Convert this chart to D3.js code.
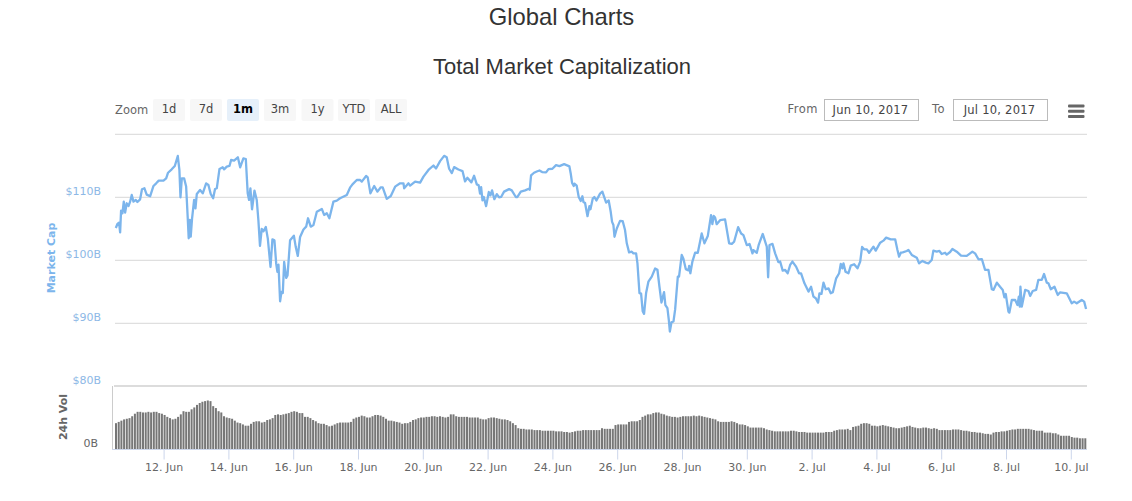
<!DOCTYPE html>
<html>
<head>
<meta charset="utf-8">
<title>Global Charts</title>
<script src="https://cdnjs.cloudflare.com/ajax/libs/d3/7.8.5/d3.min.js"></script>
<style>
    html, body { margin: 0; padding: 0; background: #fff; }
    svg { display: block; }
    text { font-family: "DejaVu Sans", sans-serif; }
    .title { font-family: "Liberation Sans", Arial, sans-serif; fill: #333; text-anchor: middle; font-size: 22px; }
    .axis path { display: none; }
</style>
</head>
<body>
<div id="chart"></div>
<script>
// hours after 10 Jun 2017 00:00 UTC
const capHours = [
    12.6, 13.8, 15, 15.8, 16.5, 17.5, 18.5, 19.5, 20.7, 22, 23.2, 24.4, 25.7, 27.4, 28.6, 30.6, 32, 33.8, 35.5, 38,
    40.5, 42.5, 44.4, 47.9, 49.9, 51.3, 54, 56.3, 58.5, 59.7, 60.5, 61.5, 63.2, 64.7, 65.7, 66.6, 67.4, 68.1, 69.1, 70.6,
    71.6, 72.6, 75, 77, 79.5, 81.2, 82.9, 84.7, 86.1, 87.4, 89.4, 91.8, 92.8, 94.8, 96.8, 98, 100.2, 103, 104.7, 107.1,
    108.9, 110.3, 111.3, 112.3, 113.5, 115.3, 117, 118.2, 119.4, 120.7, 122, 123.7, 125.2, 127.2, 128.6, 130.1, 131.4, 132.3, 133.1, 134.3,
    135.3, 136.3, 137.3, 138.8, 139.8, 141.7, 144.5, 145.9, 147.4, 149.1, 151.6, 153.6, 155, 157, 159, 161.5, 165.2, 166.9, 168.9, 170.8,
    173.8, 176.3, 178.7, 183.7, 186.1, 187.9, 191.1, 193.6, 194.8, 198, 199.2, 201.2, 204, 206.4, 208.9, 210.3, 213.3, 216.3, 219.5, 223.2,
    225.7, 226.2, 229.4, 230.6, 234.3, 238, 240.5, 244.2, 247.9, 249.8, 252.8, 255.8, 257.7, 259.5, 261.5, 263.2, 266.4, 269.4, 271.3, 273,
    276, 278, 280, 281.4, 282.4, 283.2, 284.2, 285.2, 286.9, 288.9, 290.1, 291.3, 293, 294.8, 296.5, 298, 300.2, 303.9, 305.9, 308.9,
    310.1, 312.6, 315.8, 318.5, 319.2, 320.2, 322.4, 324.4, 326.4, 328.4, 331.3, 333.1, 336, 338.7, 341.2, 344.7, 348.6, 349.6, 350.6, 351.8,
    352.3, 354, 355.5, 357, 358.2, 359, 360.2, 362, 363.4, 364.2, 365.9, 367.1, 368.6, 371.3, 373, 375.8, 377.7, 379.2, 380.2, 381.2,
    382, 383.7, 386.1, 388.1, 389.8, 391.1, 392.8, 394.8, 396, 398, 399, 400.5, 401.7, 402.9, 403.9, 405.4, 407.1, 409.6, 412.1, 413.8,
    415.3, 416.8, 418.7, 419.7, 421.2, 422.2, 423, 424.2, 425.7, 426.9, 428.9, 429.8, 431.8, 433, 434.8, 436.8, 437.3, 438.2, 439.7, 441.7,
    443.7, 446.6, 448.6, 451.1, 453.5, 454.5, 455.5, 456.5, 457.7, 460.2, 463.9, 466.9, 468.9, 470.6, 473.6, 475.8, 477.5, 480, 482, 484.2,
    484.9, 487.4, 488.9, 491.8, 493.6, 494.8, 495.8, 496.8, 499, 501, 503.4, 504.7, 506.6, 508.4, 510.3, 512.1, 513.8, 516.5, 518.7, 520.2,
    522.7, 525.7, 527.6, 529.4, 531.1, 532.8, 533.8, 535.3, 536.8, 538.5, 540.5, 542.2, 543.7, 546.2, 548.4, 549.6, 550.8, 551.6, 553.1, 555.3,
    557, 559.5, 562, 564, 565.4, 566.9, 568.9, 570.6, 573.8, 575.5, 578.8, 581.2, 583.2, 586.6, 589.9, 591.6, 592.8, 594.1, 595.5, 598.5,
    599.7, 602.2, 605.9, 607.6, 610.1, 612.6, 614.5, 617, 618.2, 620.7, 622.7, 624.4, 626.9, 628.1, 630.6, 632.3, 635.5, 638.7, 642.9, 647.1,
    649.1, 651.6, 654.1, 656.5, 659, 661.5, 662.7, 665.2, 667.6, 669.6, 670.8, 671.8, 673.8, 674.5, 676.3, 678.8, 680.5, 681.5, 682.2, 682.7,
    683.7, 686.2, 688.6, 689.9, 691.8, 694.3, 696, 698.5, 700.2, 702.2, 703.4, 705.2, 707.9, 710.3, 712.1, 717, 720.7, 722.4, 724.4, 728.1,
    729.9, 731.3
];
// market cap, $B
const capValues = [
    105.13, 105.77, 105.98, 104.44, 107.88, 107.46, 109.31, 107.57, 109.05, 108.62, 109.31, 110.37, 109.31, 109.58, 109.26, 109.68, 111.27, 111.43, 110.42, 110.16,
    111.8, 112.22, 112.65, 112.65, 113, 113.9, 114.44, 114.97, 116.56, 114.34, 110, 113, 113, 111.7, 107.46, 103.5, 106.4, 103.76, 106.67, 109.58,
    108.25, 110.53, 111.16, 110.63, 112.22, 111.96, 110.53, 109.84, 111.32, 111.43, 114.5, 114.76, 114.44, 114.87, 114.97, 115.93, 115.82, 116.35, 114.76, 116.19,
    116.08, 110.63, 109.58, 111.43, 108.1, 111.06, 109.58, 106.4, 102.3, 105, 104.6, 105.3, 103.44, 98.94, 103.33, 103.17, 99.47, 98.15, 99.3, 93.5,
    95, 94.8, 99.74, 97.2, 97.6, 103.2, 103.9, 102.1, 100.7, 103.7, 104.9, 105.34, 106.67, 105.34, 105.6, 107.72, 108.15, 107.2, 107.46, 106.67,
    109.31, 109.47, 109.84, 110.37, 111.53, 112.06, 112.75, 112.75, 112.49, 113.39, 113.17, 110.63, 111.8, 110.9, 111.59, 111.59, 109.74, 110.21, 111.69, 112.22,
    112.22, 111.43, 112.22, 111.85, 112.49, 112.33, 113.28, 114.34, 115.05, 114.58, 115.74, 116.58, 116.37, 114.53, 113.84, 114.79, 114.42, 114.16, 112.53, 113.1,
    112.37, 113.42, 112.05, 111.9, 110.6, 111.6, 109.5, 110.05, 108.6, 110.84, 110.3, 111.1, 109.7, 110.5, 110, 110.05, 110.9, 111.3, 111.1, 110.05,
    110.05, 110.9, 111.1, 111.37, 111.2, 113.47, 113.9, 114.1, 114.26, 114, 113.95, 114.47, 114.53, 115.1, 114.95, 115.26, 114.9, 113.74, 112.26, 111.8,
    112.16, 111.84, 110.05, 109.42, 110.16, 109.26, 109.1, 107, 108.6, 108.1, 109.8, 110.05, 109.5, 110.58, 110.9, 109.16, 109.5, 107.7, 106.1, 105.6,
    103.74, 105.05, 106.26, 106.2, 104.8, 102.7, 101.26, 101.37, 101.1, 101.1, 99.5, 94.8, 94.7, 91.9, 91.5, 94.8, 96.6, 97.4, 98.7, 98.5,
    95.8, 93.3, 94.95, 92.9, 92.4, 90.6, 88.7, 90.16, 90.3, 92.16, 97.4, 97.4, 100.84, 100.3, 98.6, 98.4, 99.1, 97.95, 99.8, 101.2,
    101.2, 104.26, 102.7, 103.84, 107.16, 105.74, 107.05, 106.8, 105.74, 106.37, 106.5, 102.7, 102.6, 102.95, 105.26, 104.26, 104, 102.4, 102.6, 101.1,
    101.6, 101.2, 102.5, 104.18, 102.96, 102.17, 97.3, 102.43, 102.6, 101.1, 99.7, 99.8, 98.36, 98.47, 97.94, 99.26, 99.8, 99, 97.94, 97.94,
    96.35, 95.03, 95.8, 94.23, 93.97, 93.28, 94.76, 94.66, 96.45, 95.4, 95.55, 94.76, 94.92, 97.14, 97.94, 99.42, 98.73, 99.52, 98.2, 97.94,
    99.15, 99.37, 98.73, 99.8, 102.12, 101.75, 101.75, 101.2, 102.17, 101.53, 102.8, 103.12, 103.6, 103.33, 103.33, 101.64, 100.58, 101.2, 101.27, 101.48,
    101.64, 100.85, 100.42, 99.52, 99.9, 99.63, 99.52, 100.05, 101.53, 101.37, 101.48, 101, 101.2, 100.9, 101.32, 101.8, 101.37, 100.74, 100.69, 101.37,
    101.1, 100.16, 100.2, 98.47, 98.47, 95.4, 95.3, 96.45, 95.8, 95.3, 94.13, 94.66, 91.85, 91.7, 93.7, 93.7, 92.9, 94.23, 92.65, 95.8,
    92.65, 95.3, 95.13, 94.34, 95.13, 95.3, 96.9, 96.9, 97.83, 96.45, 96.35, 95.4, 95.8, 94.5, 94.92, 94.76, 93.17, 93.44, 93.17, 93.7,
    93.44, 92.28
];
// 24h volume, $B, one bar every two hours from 10 Jun 12:00
const volValues = [
    4.1, 4.3, 4.5, 4.7, 4.8, 4.9, 5.2, 5.6, 5.9, 5.9, 5.8, 5.8,
    5.9, 5.8, 5.9, 5.9, 5.7, 5.6, 5.4, 5.1, 4.9, 4.7, 4.8, 5.1,
    5.5, 6.0, 5.9, 5.9, 6.3, 6.6, 7.0, 7.3, 7.5, 7.6, 7.7, 7.6,
    6.8, 6.5, 6.0, 5.8, 5.2, 5.0, 4.9, 4.8, 4.5, 4.2, 4.1, 3.9,
    3.7, 3.7, 4.0, 4.3, 4.4, 4.4, 4.2, 4.3, 4.6, 4.7, 4.9, 5.4,
    5.5, 5.4, 5.5, 5.6, 5.7, 5.9, 6.0, 5.9, 5.7, 5.7, 5.1, 5.1,
    4.9, 4.6, 4.4, 4.1, 4.0, 4.0, 3.8, 3.6, 3.7, 3.9, 4.1, 4.2,
    4.2, 4.2, 4.2, 4.3, 4.8, 5.0, 5.1, 5.3, 5.2, 5.0, 5.0, 5.2,
    5.4, 5.4, 5.3, 5.1, 4.8, 4.5, 4.5, 4.4, 4.3, 4.2, 4.0, 4.1,
    4.1, 4.3, 4.6, 4.7, 4.9, 5.0, 5.0, 5.1, 5.1, 5.2, 5.2, 5.1,
    5.2, 5.1, 5.0, 5.1, 5.5, 5.5, 5.2, 5.1, 5.1, 5.1, 5.1, 5.0,
    5.0, 5.0, 5.0, 4.8, 4.7, 4.7, 4.9, 5.0, 5.0, 4.9, 4.8, 4.7,
    4.7, 4.6, 4.4, 4.1, 3.8, 3.3, 3.2, 3.2, 3.1, 3.1, 3.1, 3.0,
    3.0, 3.0, 2.9, 2.9, 2.9, 2.9, 2.9, 2.8, 2.8, 2.8, 2.7, 2.7,
    2.6, 2.7, 2.8, 2.9, 2.9, 3.0, 3.0, 3.0, 3.0, 3.0, 3.0, 3.0,
    3.3, 3.2, 3.2, 3.2, 3.2, 3.8, 3.9, 3.9, 3.9, 3.9, 4.3, 4.4,
    4.4, 4.4, 4.6, 5.1, 5.3, 5.5, 5.5, 5.7, 5.8, 5.8, 5.6, 5.5,
    5.3, 5.2, 5.1, 5.1, 5.0, 5.1, 5.2, 5.2, 5.2, 5.2, 5.3, 5.2,
    5.3, 5.2, 5.1, 5.0, 4.9, 4.8, 4.7, 4.4, 4.3, 4.3, 4.3, 4.3,
    4.4, 4.3, 4.1, 3.9, 3.9, 3.8, 3.6, 3.4, 3.4, 3.4, 3.4, 3.4,
    3.3, 3.1, 3.0, 2.9, 2.8, 2.8, 2.8, 2.8, 2.8, 2.8, 2.9, 2.9,
    2.8, 2.7, 2.7, 2.7, 2.6, 2.6, 2.6, 2.6, 2.6, 2.6, 2.6, 2.7,
    2.7, 2.7, 2.9, 3.0, 3.1, 3.1, 3.1, 3.2, 3.0, 3.5, 3.6, 3.7,
    4.0, 4.1, 4.1, 4.0, 3.7, 3.7, 3.6, 3.7, 3.8, 3.7, 3.6, 3.5,
    3.4, 3.3, 3.3, 3.4, 3.5, 3.6, 3.7, 3.5, 3.4, 3.3, 3.3, 3.4,
    3.4, 3.3, 3.2, 3.3, 3.2, 3.0, 3.0, 3.0, 3.0, 3.0, 3.1, 3.1,
    3.1, 3.0, 2.9, 2.9, 2.8, 2.7, 2.7, 2.6, 2.6, 2.5, 2.4, 2.4,
    2.3, 2.6, 2.7, 2.7, 2.8, 2.8, 2.9, 3.0, 3.1, 3.1, 3.2, 3.2,
    3.2, 3.2, 3.2, 3.1, 3.0, 2.9, 2.9, 2.9, 2.6, 2.6, 2.6, 2.5,
    2.5, 2.3, 2.1, 2.1, 2.1, 2.1, 1.9, 1.8, 1.8, 1.7, 1.7, 1.7
];
const capTicks = [90, 100, 110, 120];
const capLabelTicks = [80, 90, 100, 110];
const xTicks = ["2017-06-12", "2017-06-14", "2017-06-16", "2017-06-18", "2017-06-20", "2017-06-22", "2017-06-24", "2017-06-26",
    "2017-06-28", "2017-06-30", "2017-07-02", "2017-07-04", "2017-07-06", "2017-07-08", "2017-07-10"];
const zoomButtons = ["1d", "7d", "1m", "3m", "1y", "YTD", "ALL"];
const zoomButtonLeft = [153, 190, 227, 264, 301.5, 338, 375];
const zoomSelected = "1m";

const width = 1132, height = 501;
const left = 115, right = 1087;
const startTime = Date.UTC(2017, 5, 10);
const hourMs = 3600000;
const toDate = h => new Date(startTime + h * hourMs);

const svg = d3.select("#chart").append("svg")
    .attr("width", width)
    .attr("height", height);

svg.append("text").attr("class", "title").attr("x", 561.5).attr("y", 25)
    .style("font-size", "23.8px").text("Global Charts");
svg.append("text").attr("class", "title").attr("x", 562).attr("y", 74).text("Total Market Capitalization");

let x = d3.scaleUtc().domain([toDate(12), toDate(732)]).range([left, right]);
let y = d3.scaleLinear().domain([80, 120]).range([386.3, 134.3]);
let yVol = d3.scaleLinear().domain([0, 10]).range([449, 386]);

// gridlines
svg.append("g").selectAll("line").data(capTicks).join("line")
    .attr("x1", left).attr("x2", right)
    .attr("y1", d => y(d)).attr("y2", d => y(d))
    .attr("stroke", "#d8d8d8").attr("stroke-width", 1);

// market cap labels
let capAxis = svg.append("g").attr("class", "axis")
    .attr("transform", "translate(" + 101 + ",0)")
    .call(d3.axisLeft(y).tickValues(capLabelTicks).tickSize(0).tickPadding(0).tickFormat(d => "$" + d + "B"));
capAxis.selectAll("text")
    .attr("dy", "-2.5px")
    .attr("fill", "#8db8e6")
    .attr("font-size", "11px");

// volume pane frame
svg.append("line").attr("x1", left - 1).attr("x2", right).attr("y1", 386).attr("y2", 386)
    .attr("stroke", "#dcdcdc").attr("stroke-width", 2);
svg.append("line").attr("x1", 112.5).attr("x2", 112.5).attr("y1", 386).attr("y2", 449)
    .attr("stroke", "#ccc").attr("stroke-width", 1);

// volume bars
const barStep = x(toDate(14)) - x(toDate(12));
svg.append("g").selectAll("rect").data(volValues).join("rect")
    .attr("x", (d, i) => x(toDate(12 + i * 2)))
    .attr("y", d => yVol(d))
    .attr("width", barStep - 0.7)
    .attr("height", d => yVol(0) - yVol(d))
    .attr("fill", "#777");

// x axis
let xAxis = svg.append("g").attr("class", "axis")
    .attr("transform", "translate(0,449.5)")
    .call(d3.axisBottom(x)
        .tickValues(xTicks.map(d => new Date(d + "T00:00:00Z")))
        .tickSize(10).tickPadding(4)
        .tickFormat(d3.utcFormat("%-d. %b")));
xAxis.selectAll("line").attr("stroke", "#ccd6eb");
xAxis.selectAll("text").attr("fill", "#666").attr("font-size", "11px");
svg.append("line").attr("x1", 112).attr("x2", right).attr("y1", 449.5).attr("y2", 449.5).attr("stroke", "#ccd6eb");

// market cap line
const capPoints = d3.zip(capHours, capValues);
let line = d3.line().x(d => x(toDate(d[0]))).y(d => y(d[1]));
svg.append("path").datum(capPoints)
    .attr("d", line)
    .attr("fill", "none")
    .attr("stroke", "#7cb5ec")
    .attr("stroke-width", 2.3)
    .attr("stroke-linejoin", "round");

// axis titles and volume label
svg.append("text").attr("transform", "translate(55,258) rotate(-90)")
    .attr("text-anchor", "middle").attr("font-size", "11px").attr("font-weight", "bold")
    .attr("fill", "#7cb5ec").text("Market Cap");
svg.append("text").attr("transform", "translate(67,417) rotate(-90)")
    .attr("text-anchor", "middle").attr("font-size", "11px").attr("font-weight", "bold")
    .attr("fill", "#666").text("24h Vol");
svg.append("text").attr("x", 98).attr("y", 447).attr("text-anchor", "end")
    .attr("font-size", "11px").attr("fill", "#666").text("0B");

// range selector
svg.append("text").attr("x", 115).attr("y", 114).attr("font-size", "11.5px").attr("fill", "#666").text("Zoom");
let buttons = svg.append("g").selectAll("g").data(zoomButtons).join("g")
    .attr("transform", (d, i) => "translate(" + zoomButtonLeft[i] + ",99)");
buttons.append("rect")
    .attr("width", 32).attr("height", 22).attr("rx", 2)
    .attr("fill", d => d === zoomSelected ? "#e6f0fa" : "#f7f7f7");
buttons.append("text")
    .attr("x", 16).attr("y", 14).attr("text-anchor", "middle").attr("font-size", "11.5px")
    .attr("font-weight", d => d === zoomSelected ? "bold" : "normal")
    .attr("fill", d => d === zoomSelected ? "#000" : "#444")
    .text(d => d);

// date inputs
const inputLabels = ["From", "To"];
const inputValues = ["Jun 10, 2017", "Jul 10, 2017"];
const inputLeft = [824, 953];
const inputLabelRight = [818, 945];
svg.append("g").selectAll("text").data(inputLabels).join("text")
    .attr("x", (d, i) => inputLabelRight[i]).attr("y", 113).attr("text-anchor", "end")
    .attr("font-size", "11.5px").attr("letter-spacing", "0.5px").attr("fill", "#666").text(d => d);
let inputs = svg.append("g").selectAll("g").data(inputValues).join("g")
    .attr("transform", (d, i) => "translate(" + inputLeft[i] + ",99)");
inputs.append("rect")
    .attr("x", 0.5).attr("y", 0.5).attr("width", 94).attr("height", 21)
    .attr("fill", "#fff").attr("stroke", "#bbb");
inputs.append("text")
    .attr("x", 46.5).attr("y", 14.5).attr("text-anchor", "middle").attr("font-size", "11.5px")
    .attr("letter-spacing", "0.25px").attr("fill", "#444").text(d => d);

// menu icon
svg.append("g").selectAll("rect").data([0, 1, 2]).join("rect")
    .attr("x", 1068).attr("y", d => 104.5 + d * 5.2)
    .attr("width", 16.5).attr("height", 3).attr("rx", 1)
    .attr("fill", "#666");
</script>
</body>
</html>
